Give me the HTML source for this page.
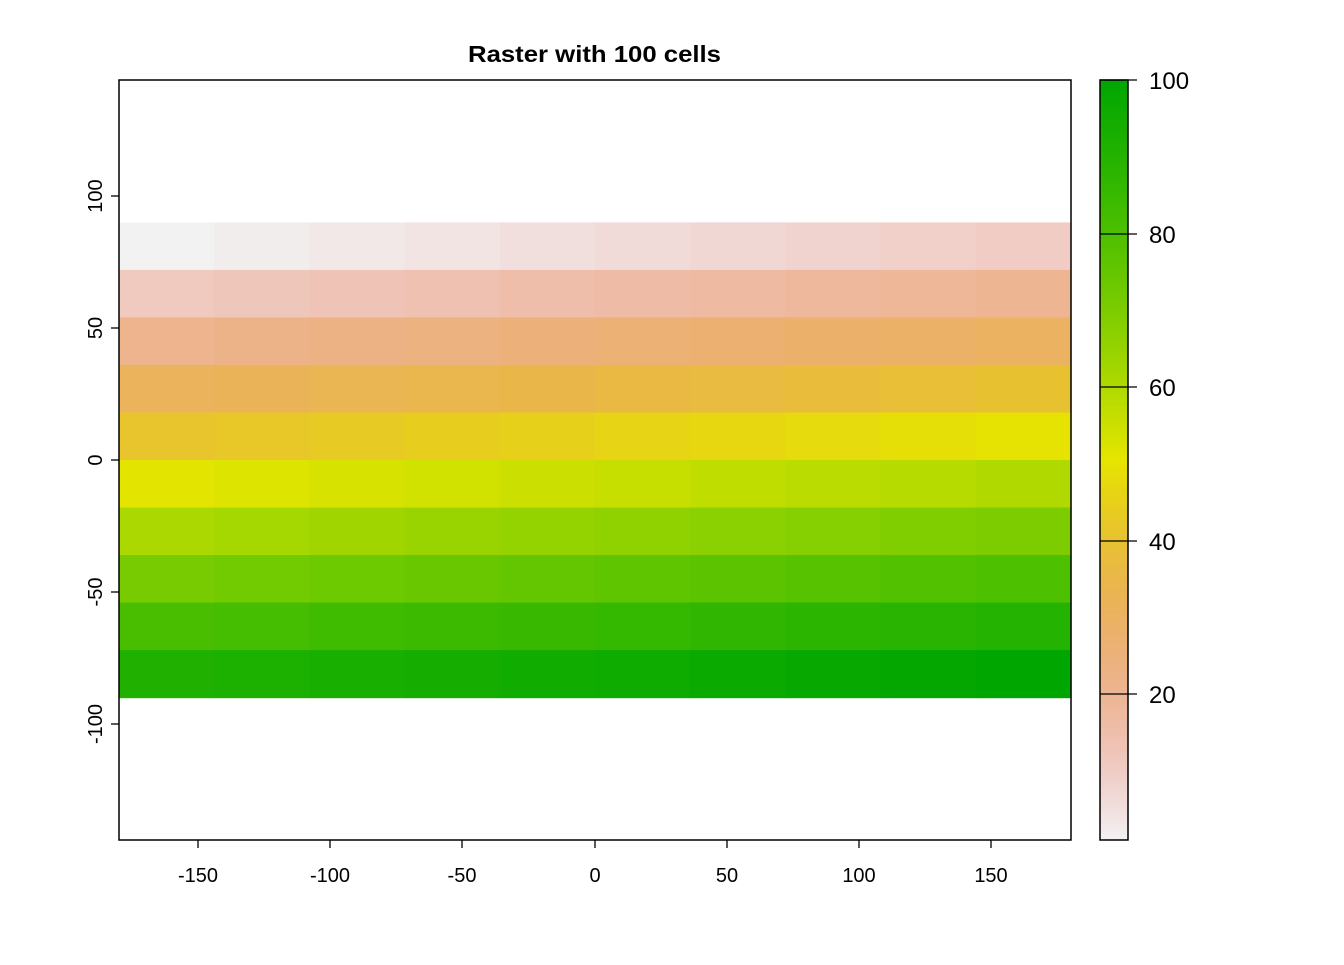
<!DOCTYPE html>
<html><head><meta charset="utf-8"><style>
body{margin:0;background:#fff;}
svg text{font-family:"Liberation Sans",Arial,sans-serif;fill:#000;}
</style></head><body>
<svg id="s" width="1344" height="960" xmlns="http://www.w3.org/2000/svg">
<rect width="1344" height="960" fill="#fff"/>
<g id="cells"></g>
<g id="leg"></g>
<rect x="119" y="80" width="952" height="760" fill="none" stroke="#000" stroke-width="1.5"/>
<rect x="1100" y="80" width="28" height="760" fill="none" stroke="#000" stroke-width="1.5"/>
<text x="468" y="62" font-size="23" font-weight="bold" textLength="253" lengthAdjust="spacingAndGlyphs">Raster with 100 cells</text>
<g stroke="#000" stroke-width="1.3">
<line x1="198" y1="840" x2="198" y2="848"/><line x1="330" y1="840" x2="330" y2="848"/><line x1="462" y1="840" x2="462" y2="848"/><line x1="595" y1="840" x2="595" y2="848"/><line x1="727" y1="840" x2="727" y2="848"/><line x1="859" y1="840" x2="859" y2="848"/><line x1="991" y1="840" x2="991" y2="848"/>
<line x1="111" y1="196" x2="119" y2="196"/><line x1="111" y1="328" x2="119" y2="328"/><line x1="111" y1="460" x2="119" y2="460"/><line x1="111" y1="592" x2="119" y2="592"/><line x1="111" y1="724" x2="119" y2="724"/>
<line x1="1100" y1="80" x2="1137" y2="80"/><line x1="1100" y1="234" x2="1137" y2="234"/><line x1="1100" y1="387" x2="1137" y2="387"/><line x1="1100" y1="541" x2="1137" y2="541"/><line x1="1100" y1="694" x2="1137" y2="694"/>
</g>
<g font-size="20" text-anchor="middle">
<text x="198" y="882">-150</text><text x="330" y="882">-100</text><text x="462" y="882">-50</text><text x="595" y="882">0</text><text x="727" y="882">50</text><text x="859" y="882">100</text><text x="991" y="882">150</text>
<text transform="translate(102,196) rotate(-90)">100</text>
<text transform="translate(102,328) rotate(-90)">50</text>
<text transform="translate(102,460) rotate(-90)">0</text>
<text transform="translate(102,592) rotate(-90)">-50</text>
<text transform="translate(102,724) rotate(-90)">-100</text>
</g>
<g font-size="24">
<text x="1149" y="89">100</text><text x="1149" y="243">80</text><text x="1149" y="396">60</text><text x="1149" y="550">40</text><text x="1149" y="703">20</text>
</g>
</svg>
<script>
function hsv(h,s,v){var i=Math.floor(h*6)%6,f=h*6-Math.floor(h*6),p=v*(1-s),q=v*(1-f*s),t=v*(1-(1-f)*s),r,g,b;
switch(i){case 0:r=v;g=t;b=p;break;case 1:r=q;g=v;b=p;break;case 2:r=p;g=v;b=t;break;case 3:r=p;g=q;b=v;break;case 4:r=t;g=p;b=v;break;default:r=v;g=p;b=q;}
return "rgb("+Math.round(r*255)+","+Math.round(g*255)+","+Math.round(b*255)+")";}
function col(val){var p=1-(val-1)/99;
if(p<0.5){var u=p/0.5;return hsv((4-2*u)/12,1,0.65+0.25*u);}
var u=(p-0.5)/0.5;return hsv((2-2*u)/12,1-u,0.9+0.05*u);}
var NS="http://www.w3.org/2000/svg",g=document.getElementById("cells"),l=document.getElementById("leg");
var cw=952/10,ch=(697.6-222.4)/10;
for(var r=0;r<10;r++)for(var c=0;c<10;c++){var e=document.createElementNS(NS,"rect");
e.setAttribute("x",119+c*cw);e.setAttribute("y",222.4+r*ch);e.setAttribute("width",cw+0.6);e.setAttribute("height",ch+0.6);
e.setAttribute("fill",col(r*10+c+1));g.appendChild(e);}
for(var y=0;y<760;y+=2){var v=100-(y+1)/760*99;var e=document.createElementNS(NS,"rect");
e.setAttribute("x",1100);e.setAttribute("y",80+y);e.setAttribute("width",28);e.setAttribute("height",2.6);e.setAttribute("fill",col(v));l.appendChild(e);}
</script>
</body></html>
